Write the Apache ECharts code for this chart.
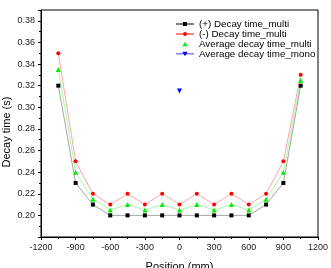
<!DOCTYPE html>
<html><head><meta charset="utf-8">
<script src="https://cdn.jsdelivr.net/npm/echarts@6/dist/echarts.min.js"></script>
<style>html,body{margin:0;padding:0;background:#fff}#c{width:331px;height:268px}</style>
</head><body><div id="c"></div>
<script>
const positions = [-1050,-900,-750,-600,-450,-300,-150,0,150,300,450,600,750,900,1050];
const plusMulti = [0.32,0.23,0.21,0.20,0.20,0.20,0.20,0.20,0.20,0.20,0.20,0.20,0.21,0.23,0.32];
const minusMulti = [0.35,0.25,0.22,0.21,0.22,0.21,0.22,0.21,0.22,0.21,0.22,0.21,0.22,0.25,0.33];
const avgMulti = [0.335,0.24,0.215,0.205,0.21,0.205,0.21,0.205,0.21,0.205,0.21,0.205,0.215,0.24,0.325];
const monoPos = [0];
const avgMono = [0.315];
const names = ['(+) Decay time_multi','(-) Decay time_multi','Average decay time_multi','Average decay time_mono'];

const pair = (xs, ys) => xs.map((x,i)=>[x, ys[i]]);
const font = 'Liberation Sans, Arial, sans-serif';
const SPAN = 'M0,3 L18,3 Z ';
const LINE = 'M0,2.6 L18,2.6 L18,3.4 L0,3.4 Z ';
const icons = [
  'path://' + SPAN + LINE + 'M7,1 L11,1 L11,5 L7,5 Z',
  'path://' + SPAN + LINE + 'M9,1 A2,2 0 1 1 8.99,1 Z',
  'path://' + SPAN + 'M9,0.6 L11.6,5.2 L6.4,5.2 Z',
  'path://' + SPAN + LINE + 'M6.4,0.8 L11.6,0.8 L9,5.4 Z'
];
const chart = echarts.init(document.getElementById('c'), null, {renderer:'canvas'});
chart.setOption({
  animation:false,
  backgroundColor:'#fff',
  grid:{left:41, right:13, top:10, bottom:31, containLabel:false, outerBoundsMode:'none',
        show:true, borderColor:'#000', borderWidth:1, backgroundColor:'transparent'},
  legend:{
    orient:'vertical', left:176, top:19, padding:0, itemWidth:18, itemHeight:6, itemGap:0,
    textStyle:{fontFamily:font, fontSize:9.8, color:'#000', lineHeight:10},
    data:names.map((n,i)=>({name:n, icon:icons[i]}))
  },
  xAxis:{
    type:'value', min:-1200, max:1200, interval:300,
    name:'Position (mm)', nameLocation:'middle', nameGap:24, nameMoveOverlap:false,
    nameTextStyle:{fontFamily:font, fontSize:11, color:'#000'},
    axisLine:{onZero:false, lineStyle:{color:'#000', width:1}},
    axisTick:{show:true, length:3, inside:false, lineStyle:{color:'#000'}},
    minorTick:{show:true, splitNumber:2, length:2, lineStyle:{color:'#000'}},
    axisLabel:{fontFamily:font, fontSize:9, color:'#222', margin:6, formatter:v=>String(v)},
    splitLine:{show:false}
  },
  yAxis:{
    type:'value', min:0.18, max:0.39, interval:0.02,
    name:'Decay time (s)', nameLocation:'middle', nameGap:29, nameMoveOverlap:false,
    nameTextStyle:{fontFamily:font, fontSize:11, color:'#000', padding:[0,17,0,0]},
    axisLine:{show:true, onZero:false, lineStyle:{color:'#000', width:1}},
    axisTick:{show:true, length:3, inside:false, lineStyle:{color:'#000'}},
    minorTick:{show:true, splitNumber:2, length:2, lineStyle:{color:'#000'}},
    axisLabel:{fontFamily:font, fontSize:9, color:'#222', margin:6,
      formatter:v=>{const k=Math.round(v/0.02); return (Math.abs(v-k*0.02)<1e-6 && v>0.19)? v.toFixed(2):'';}},
    splitLine:{show:false}
  },
  series:[
    {name:names[0], type:'line', data:pair(positions, plusMulti), symbol:'rect', symbolSize:4,
     itemStyle:{color:'#000'}, lineStyle:{color:'#000', width:0.6, opacity:0.6}},
    {name:names[1], type:'line', data:pair(positions, minusMulti), symbol:'circle', symbolSize:4,
     itemStyle:{color:'#ff0000'}, lineStyle:{color:'#ff0000', width:0.6, opacity:0.6}},
    {name:names[2], type:'line', data:pair(positions, avgMulti), symbol:'triangle', symbolSize:5,
     itemStyle:{color:'#00ee00'}, lineStyle:{color:'#00ee00', width:0.6, opacity:0.6}},
    {name:names[3], type:'line', data:pair(monoPos, avgMono), symbol:'triangle', symbolRotate:180, symbolSize:5,
     itemStyle:{color:'#0000ff'}, lineStyle:{color:'#0000ff', width:0.6}}
  ]
});
</script></body></html>
